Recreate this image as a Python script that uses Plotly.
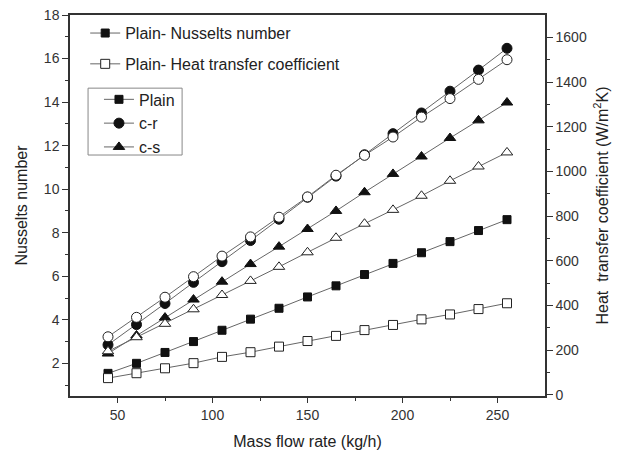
import plotly.graph_objects as go

mass_flow = [45, 60, 75, 90, 105, 120, 135, 150, 165, 180, 195, 210, 225, 240, 255]
nu_plain = [1.54, 2.0, 2.5, 3.0, 3.52, 4.03, 4.53, 5.05, 5.56, 6.08, 6.59, 7.08, 7.59, 8.1, 8.6]
nu_cr = [2.85, 3.78, 4.75, 5.72, 6.67, 7.64, 8.62, 9.63, 10.6, 11.58, 12.55, 13.5, 14.5, 15.47, 16.47]
nu_cs = [2.45, 3.28, 4.1, 4.93, 5.75, 6.56, 7.36, 8.17, 9.0, 9.86, 10.7, 11.5, 12.35, 13.16, 13.98]
h_plain = [75, 97, 119, 142, 170, 191, 216, 241, 264, 290, 313, 338, 360, 384, 410]
h_cr = [260, 347, 437, 529, 621, 707, 795, 886, 983, 1072, 1154, 1243, 1326, 1412, 1500]
h_cs = [195, 258, 318, 383, 447, 510, 573, 638, 703, 766, 828, 891, 958, 1022, 1085]

FONT = "Arial, Liberation Sans, Helvetica, sans-serif"
LINE = dict(color="#666666", width=1)

fig = go.Figure()

def filled(sym, size=8):
    return dict(symbol=sym, size=size, color="#111111", line=dict(color="#111111", width=1))

def hollow(sym, size=9):
    return dict(symbol=sym, size=size, color="white", line=dict(color="#222222", width=1))

# Heat transfer coefficient (right axis, open markers)
fig.add_trace(go.Scatter(x=mass_flow, y=h_plain, mode="lines+markers", yaxis="y2",
                         line=LINE, marker=hollow("square"),
                         name="Plain- Heat transfer coefficient", legend="legend",
                         legendgroup="g2", legendrank=2))
fig.add_trace(go.Scatter(x=mass_flow, y=h_cs, mode="lines+markers", yaxis="y2",
                         line=LINE, marker=hollow("triangle-up", 10), showlegend=False))
fig.add_trace(go.Scatter(x=mass_flow, y=h_cr, mode="lines+markers", yaxis="y2",
                         line=LINE, marker=hollow("circle", 10), showlegend=False))

# Nusselt number (left axis, filled markers)
fig.add_trace(go.Scatter(x=mass_flow, y=nu_plain, mode="lines+markers",
                         line=LINE, marker=filled("square"),
                         name="Plain- Nusselts number", legend="legend",
                         legendgroup="g1", legendrank=1))
fig.add_trace(go.Scatter(x=mass_flow, y=nu_cs, mode="lines+markers",
                         line=LINE, marker=filled("triangle-up", 10),
                         name="c-s", legend="legend2", legendrank=3))
fig.add_trace(go.Scatter(x=mass_flow, y=nu_cr, mode="lines+markers",
                         line=LINE, marker=filled("circle", 10),
                         name="c-r", legend="legend2", legendrank=2))
# legend-only entry for the second legend box
fig.add_trace(go.Scatter(x=[None], y=[None], mode="lines+markers",
                         line=LINE, marker=filled("square"),
                         name="Plain", legend="legend2", legendrank=1))

axis_font = dict(family=FONT, size=14, color="#333333")
title_font = dict(family=FONT, size=16, color="#222222")

# the page body adds an 8px offset, so the figure is 8px smaller than the window
fig.update_layout(
    width=616, height=442,
    margin=dict(l=62, r=79, t=7, b=54, autoexpand=False),
    paper_bgcolor="white", plot_bgcolor="white",
    font=dict(family=FONT, color="#222222"),
    xaxis=dict(range=[25, 275], tickvals=[50, 100, 150, 200, 250], automargin=False,
               ticks="outside", ticklen=5, tickwidth=1, tickcolor="#333",
               ticklabeloverflow="allow",
               minor=dict(tickvals=[75, 125, 175, 225], ticks="outside", ticklen=3, tickcolor="#333"),
               showline=True, linecolor="#333", linewidth=1.5, mirror=True,
               showgrid=False, zeroline=False, tickfont=axis_font,
               title=dict(text="Mass flow rate (kg/h)", font=title_font, standoff=17)),
    yaxis=dict(range=[0.5, 18], tickvals=[2, 4, 6, 8, 10, 12, 14, 16, 18], automargin=False,
               ticks="outside", ticklen=6, tickwidth=1, tickcolor="#333",
               ticklabeloverflow="allow",
               minor=dict(tickvals=[1, 3, 5, 7, 9, 11, 13, 15, 17], ticks="outside", ticklen=3, tickcolor="#333"),
               showline=True, linecolor="#333", linewidth=1.5,
               showgrid=False, zeroline=False, tickfont=axis_font,
               title=dict(text="Nusselts number", font=title_font, standoff=12)),
    yaxis2=dict(range=[-5, 1700], overlaying="y", side="right", automargin=False,
                tickvals=[0, 200, 400, 600, 800, 1000, 1200, 1400, 1600],
                ticks="outside", ticklen=6, tickwidth=1, tickcolor="#333",
                ticklabeloverflow="allow",
                minor=dict(tickvals=[100, 300, 500, 700, 900, 1100, 1300, 1500], ticks="outside", ticklen=3, tickcolor="#333"),
                showline=True, linecolor="#333", linewidth=1.5,
                showgrid=False, zeroline=False, tickfont=axis_font,
                title=dict(text="Heat  transfer coefficient (W/m<sup>2</sup>K)", font=title_font, standoff=11)),
    legend=dict(x=0.032, y=0.997, xanchor="left", yanchor="top",
                bgcolor="rgba(0,0,0,0)", borderwidth=0,
                font=dict(family=FONT, size=16, color="#222222"),
                traceorder="grouped", tracegroupgap=7),
    legend2=dict(x=0.061, y=0.823, xanchor="left", yanchor="top",
                 bgcolor="rgba(0,0,0,0)", borderwidth=0,
                 font=dict(family=FONT, size=16, color="#222222"),
                 traceorder="normal"),
    shapes=[dict(type="rect", xref="paper", yref="paper",
                 x0=0.038, x1=0.236, y0=0.6325, y1=0.808,
                 line=dict(color="#888888", width=1), fillcolor="rgba(0,0,0,0)",
                 layer="above")],
)

fig.write_html("out.html")
